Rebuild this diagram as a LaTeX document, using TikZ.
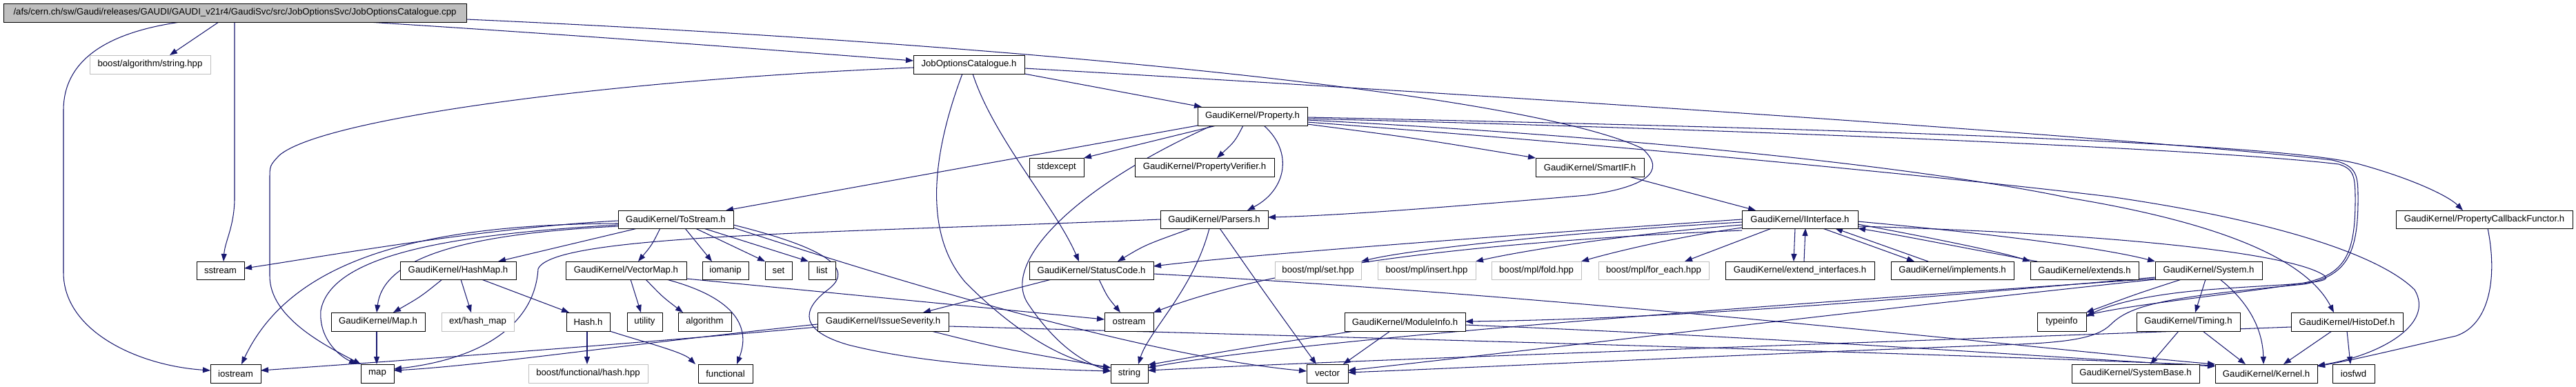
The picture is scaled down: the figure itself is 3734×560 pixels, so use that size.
\documentclass[tikz,border=0pt]{standalone}
\usepackage{fontspec}
\setmainfont{Liberation Sans}
\usetikzlibrary{arrows.meta}
\pgfdeclarelayer{background}
\pgfsetlayers{background,main}
\definecolor{edgec}{HTML}{191970}
\definecolor{rootfill}{HTML}{BFBFBF}
\definecolor{graybd}{HTML}{BFBFBF}
\newcommand{\mkbox}[7]{\node[#1,minimum width={#5pt-#3pt},minimum height={#6pt-#4pt}] (#2) at ({(#3+#5)/2},{(#4+#6)/2}) {#7};}
\begin{document}
\begin{tikzpicture}[x=1pt,y=-1pt,
  nb/.style={draw=black,line width=0.9pt,fill=white,inner sep=0pt,outer sep=0pt,font=\fontsize{13.2}{15}\selectfont},
  gb/.style={nb,draw=graybd},
  rb/.style={nb,fill=rootfill},
  e/.style={draw=edgec,line width=1.05pt,-{Triangle[length=11pt,width=8pt]}}]
\useasboundingbox (0,0) rectangle (3734,560);
% nodes
\mkbox{rb}{R}{5}{5}{676}{32}{/afs/cern.ch/sw/Gaudi/releases/GAUDI/GAUDI\_v21r4/GaudiSvc/src/JobOptionsSvc/JobOptionsCatalogue.cpp}
\mkbox{gb}{balgo}{130}{80}{305}{107}{boost/algorithm/string.hpp}
\mkbox{nb}{JOC}{1324}{80}{1485}{107}{JobOptionsCatalogue.h}
\mkbox{nb}{Prop}{1736}{155}{1895}{182}{GaudiKernel/Property.h}
\mkbox{nb}{stdexcept}{1492}{229}{1571}{256}{stdexcept}
\mkbox{nb}{PVer}{1645}{229}{1847}{256}{GaudiKernel/PropertyVerifier.h}
\mkbox{nb}{SmartIF}{2226}{229}{2383}{256}{GaudiKernel/SmartIF.h}
\mkbox{nb}{ToStream}{896}{305}{1063}{331}{GaudiKernel/ToStream.h}
\mkbox{nb}{Parsers}{1682}{305}{1838}{331}{GaudiKernel/Parsers.h}
\mkbox{nb}{IInterface}{2525}{305}{2693}{331}{GaudiKernel/IInterface.h}
\mkbox{nb}{PCF}{3473}{305}{3729}{331}{GaudiKernel/PropertyCallbackFunctor.h}
\mkbox{nb}{sstream}{285}{379}{354}{405}{sstream}
\mkbox{nb}{HashMap}{580}{379}{748}{405}{GaudiKernel/HashMap.h}
\mkbox{nb}{VectorMap}{820}{379}{995}{405}{GaudiKernel/VectorMap.h}
\mkbox{nb}{iomanip}{1018}{379}{1085}{405}{iomanip}
\mkbox{nb}{set}{1109}{379}{1148}{405}{set}
\mkbox{nb}{list}{1172}{379}{1211}{405}{list}
\mkbox{nb}{StatusCode}{1492}{379}{1672}{405}{GaudiKernel/StatusCode.h}
\mkbox{gb}{mplset}{1848}{379}{1973}{405}{boost/mpl/set.hpp}
\mkbox{gb}{mplinsert}{1997}{379}{2139}{405}{boost/mpl/insert.hpp}
\mkbox{gb}{mplfold}{2162}{379}{2292}{405}{boost/mpl/fold.hpp}
\mkbox{gb}{mplforeach}{2317}{379}{2477}{405}{boost/mpl/for\_each.hpp}
\mkbox{nb}{extint}{2501}{379}{2717}{405}{GaudiKernel/extend\_interfaces.h}
\mkbox{nb}{impl}{2741}{379}{2919}{405}{GaudiKernel/implements.h}
\mkbox{nb}{extends}{2943}{379}{3100}{405}{GaudiKernel/extends.h}
\mkbox{nb}{System}{3124}{379}{3279}{405}{GaudiKernel/System.h}
\mkbox{nb}{Map}{480}{453}{616}{480}{GaudiKernel/Map.h}
\mkbox{gb}{exthash}{640}{453}{745}{480}{ext/hash\_map}
\mkbox{nb}{Hash}{821}{453}{884}{480}{Hash.h}
\mkbox{nb}{utility}{909}{453}{960}{480}{utility}
\mkbox{nb}{algorithm}{983}{453}{1060}{480}{algorithm}
\mkbox{nb}{IssueSev}{1185}{453}{1375}{480}{GaudiKernel/IssueSeverity.h}
\mkbox{nb}{ostream}{1601}{453}{1672}{480}{ostream}
\mkbox{nb}{ModuleInfo}{1949}{453}{2124}{480}{GaudiKernel/ModuleInfo.h}
\mkbox{nb}{typeinfo}{2953}{453}{3024}{480}{typeinfo}
\mkbox{nb}{Timing}{3097}{453}{3247}{480}{GaudiKernel/Timing.h}
\mkbox{nb}{HistoDef}{3321}{453}{3483}{480}{GaudiKernel/HistoDef.h}
\mkbox{nb}{iostream}{305}{528}{378}{555}{iostream}
\mkbox{nb}{map}{523}{528}{571}{555}{map}
\mkbox{gb}{bfhash}{766}{528}{939}{555}{boost/functional/hash.hpp}
\mkbox{nb}{functional}{1012}{528}{1091}{555}{functional}
\mkbox{nb}{string}{1610}{528}{1664}{555}{string}
\mkbox{nb}{vector}{1894}{528}{1954}{555}{vector}
\mkbox{nb}{SysBase}{3003}{528}{3188}{555}{GaudiKernel/SystemBase.h}
\mkbox{nb}{Kernel}{3211}{528}{3359}{555}{GaudiKernel/Kernel.h}
\mkbox{nb}{iosfwd}{3381}{528}{3442}{555}{iosfwd}
\begin{pgfonlayer}{background}
\fill[white] (0,0) rectangle (3734,560);
% root
\draw[e] (R.south -| 317,0) -- (balgo.north -| 246,0);
\draw[e] (R.south -| 261,0) .. controls (150,48) and (92,90) .. (92,160) -- (92,395) .. controls (92,480) and (200,530) .. (iostream.west |- 0,537);
\draw[e] (R.south -| 340,0) -- (340,290) .. controls (339,330) and (326,350) .. (sstream.north -| 324,0);
\draw[e] (R.south -| 534,0) .. controls (900,55) and (1150,75) .. (JOC.west |- 0,88);
\draw[e] (R.east |- 0,28) .. controls (1400,60) and (2200,130) .. (2380,215) .. controls (2420,250) and (2380,272) .. (2300,283) .. controls (2100,300) and (1950,312) .. (Parsers.east |- 0,315);
% JobOptionsCatalogue.h
\draw[e] (JOC.west |- 0,98) .. controls (900,115) and (470,170) .. (405,225) .. controls (391,240) .. (391,260) -- (391,400) .. controls (391,460) and (470,500) .. (map.north west);
\draw[e] (JOC.south -| 1395,0) .. controls (1360,200) and (1330,330) .. (1400,410) .. controls (1480,490) and (1550,525) .. (string.west |- 0,533);
\draw[e] (JOC.south -| 1410,0) .. controls (1440,200) and (1530,300) .. (StatusCode.north -| 1564,0);
\draw[e] (JOC.south east) -- (Prop.north -| 1742,0);
\draw[e] (JOC.east |- 0,99) .. controls (2200,140) and (3100,200) .. (3380,232) .. controls (3418,240) and (3418,255) .. (3418,290) .. controls (3418,370) and (3400,400) .. (3340,412) .. controls (3150,430) and (3090,440) .. (3060,470) .. controls (3040,490) and (3000,497) .. (2900,500) .. controls (2500,515) and (2200,530) .. (vector.east |- 0,540);
% Property.h
\draw[e] (Prop.south west) -- (ToStream.north -| 1052,0);
\draw[e] (Prop.south -| 1763,0) -- (stdexcept.north east);
\draw[e] (Prop.south -| 1757,0) .. controls (1560,270) and (1450,380) .. (1490,440) .. controls (1530,500) and (1570,525) .. (string.west |- 0,538);
\draw[e] (Prop.south -| 1802,0) .. controls (1790,205) .. (PVer.north -| 1764,0);
\draw[e] (Prop.south -| 1832,0) .. controls (1875,220) and (1865,275) .. (Parsers.north -| 1808,0);
\draw[e] (Prop.east |- 0,180) .. controls (2050,200) .. (SmartIF.north west);
\draw[e] (Prop.east |- 0,170) .. controls (2600,185) and (3300,205) .. (3420,238) .. controls (3500,260) and (3550,285) .. (PCF.north -| 3570,0);
\draw[e] (Prop.east |- 0,172) .. controls (2500,187) and (3200,215) .. (3390,238) .. controls (3412,245) and (3414,255) .. (3414,290) .. controls (3414,370) and (3398,398) .. (3340,410) .. controls (3250,425) and (3100,440) .. (typeinfo.east |- 0,457);
\draw[e] (Prop.east |- 0,174) .. controls (2400,200) and (2800,245) .. (3000,287) .. controls (3200,320) and (3340,370) .. (HistoDef.north -| 3383,0);
\draw[e] (Prop.east |- 0,177) .. controls (2400,215) and (2850,260) .. (3058,285) .. controls (3300,320) and (3450,370) .. (3500,420) .. controls (3530,470) and (3450,515) .. (Kernel.east |- 0,530);
% ToStream.h
\draw[e] (ToStream.west |- 0,320) .. controls (700,330) and (450,375) .. (sstream.east |- 0,389);
\draw[e] (ToStream.west |- 0,324) .. controls (600,325) and (420,380) .. (iostream.north -| 350,0);
\draw[e] (ToStream.west |- 0,328) .. controls (650,340) and (555,380) .. (Map.north -| 546,0);
\draw[e] (ToStream.west |- 0,326) .. controls (650,340) and (480,370) .. (465,450) .. controls (462,490) and (490,515) .. (map.north -| 517,0);
\draw[e] (ToStream.south -| 924,0) -- (HashMap.north -| 722,0);
\draw[e] (ToStream.south -| 957,0) .. controls (945,355) .. (VectorMap.north -| 925,0);
\draw[e] (ToStream.south -| 993,0) -- (iomanip.north -| 1032,0);
\draw[e] (ToStream.south -| 1008,0) -- (set.north west);
\draw[e] (ToStream.south -| 1020,0) -- (list.north west);
\draw[e] (ToStream.east |- 0,326) .. controls (1200,360) and (1240,390) .. (1200,420) .. controls (1160,450) and (1160,480) .. (1230,500) .. controls (1350,530) and (1500,535) .. (string.west |- 0,538);
\draw[e] (ToStream.east |- 0,330) .. controls (1400,440) and (1700,520) .. (vector.west |- 0,538);
% HashMap, Map, Hash, VectorMap
\draw[e] (HashMap.south -| 641,0) .. controls (610,430) .. (Map.north -| 570,0);
\draw[e] (HashMap.south -| 668,0) -- (exthash.north -| 683,0);
\draw[e] (HashMap.south -| 698,0) -- (Hash.north -| 825,0);
\draw[e] (Map.south -| 546,0) -- (map.north -| 546,0);
\draw[e] (Hash.south -| 851,0) -- (bfhash.north -| 851,0);
\draw[e] (Hash.east |- 0,480) .. controls (930,495) and (990,510) .. (functional.north -| 1008,0);
\draw[e] (VectorMap.south -| 914,0) -- (utility.north -| 929,0);
\draw[e] (VectorMap.south -| 936,0) .. controls (960,430) .. (algorithm.north -| 990,0);
\draw[e] (VectorMap.south -| 966,0) .. controls (1060,430) and (1090,470) .. (functional.north -| 1068,0);
\draw[e] (VectorMap.east |- 0,404) -- (ostream.west |- 0,463);
% IssueSeverity.h
\draw[e] (IssueSev.west |- 0,474) .. controls (900,500) and (550,525) .. (iostream.east |- 0,537);
\draw[e] (IssueSev.west |- 0,470) .. controls (900,500) and (700,530) .. (map.east |- 0,537);
\draw[e] (IssueSev.south -| 1350,0) .. controls (1450,505) .. (string.west |- 0,533);
\draw[e] (IssueSev.east |- 0,473) .. controls (2000,490) and (2900,515) .. (Kernel.west |- 0,530);
% Parsers.h
\draw[e] (Parsers.south -| 1727,0) .. controls (1660,355) .. (StatusCode.north -| 1620,0);
\draw[e] (Parsers.south -| 1753,0) .. controls (1730,420) and (1665,480) .. (string.north -| 1650,0);
\draw[e] (Parsers.south -| 1768,0) .. controls (1830,420) .. (vector.north -| 1908,0);
\draw[e] (Parsers.west |- 0,318) .. controls (1200,338) and (800,340) .. (780,390) .. controls (775,470) and (700,520) .. (map.east |- 0,535);
% StatusCode.h
\draw[e] (StatusCode.south -| 1593,0) .. controls (1605,430) .. (ostream.north -| 1624,0);
\draw[e] (StatusCode.south -| 1524,0) -- (IssueSev.north -| 1338,0);
\draw[e] (StatusCode.east |- 0,397) .. controls (2300,430) and (3000,510) .. (Kernel.west |- 0,528);
% IInterface.h
\draw[e] (SmartIF.south -| 2361,0) -- (IInterface.north -| 2545,0);
\draw[e] (IInterface.south -| 2602,0) -- (extint.north -| 2600,0);
\draw[e] (extint.north -| 2615,0) -- (IInterface.south -| 2617,0);
\draw[e] (IInterface.south -| 2642,0) -- (impl.north -| 2775,0);
\draw[e] (impl.north -| 2795,0) -- (IInterface.south -| 2660,0);
\draw[e] (IInterface.east |- 0,325) .. controls (2800,345) and (2900,365) .. (extends.north west);
\draw[e] (extends.north -| 2953,0) .. controls (2850,360) and (2750,340) .. (IInterface.south east);
\draw[e] (IInterface.east |- 0,321) .. controls (2900,340) and (3050,360) .. (System.north west);
\draw[e] (IInterface.east |- 0,328) .. controls (3100,340) and (3330,370) .. (3370,400) .. controls (3385,412) and (3300,412) .. (3200,420) .. controls (3100,428) and (3050,445) .. (typeinfo.east |- 0,459);
\draw[e] (IInterface.west |- 0,322) .. controls (2300,335) and (2050,360) .. (mplset.north east);
\draw[e] (IInterface.west |- 0,326) .. controls (2350,340) and (2200,365) .. (mplinsert.north east);
\draw[e] (IInterface.west |- 0,330) .. controls (2420,345) and (2330,368) .. (mplfold.north east);
\draw[e] (IInterface.south -| 2568,0) -- (mplforeach.north -| 2442,0);
\draw[e] (IInterface.west |- 0,318) .. controls (2200,340) and (1800,370) .. (StatusCode.east |- 0,386);
\draw[e] (IInterface.west |- 0,334) .. controls (2150,350) and (1850,385) .. (ostream.north east);
% System.h
\draw[e] (System.south -| 3162,0) .. controls (3100,425) .. (typeinfo.north east);
\draw[e] (System.south -| 3197,0) -- (Timing.north -| 3182,0);
\draw[e] (System.south -| 3218,0) .. controls (3262,440) and (3280,480) .. (Kernel.north -| 3281,0);
\draw[e] (System.west |- 0,402) .. controls (2800,430) and (2450,462) .. (ModuleInfo.east |- 0,466);
\draw[e] (System.west |- 0,404) .. controls (2600,440) and (1900,490) .. (string.east |- 0,533);
\draw[e] (System.west |- 0,405) .. controls (2700,450) and (2200,510) .. (vector.east |- 0,537);
% ModuleInfo.h
\draw[e] (ModuleInfo.south -| 1963,0) .. controls (1800,505) .. (string.east |- 0,529);
\draw[e] (ModuleInfo.south -| 2015,0) -- (vector.north -| 1947,0);
\draw[e] (ModuleInfo.east |- 0,471) .. controls (2600,490) and (3000,520) .. (Kernel.west |- 0,531);
% Timing, HistoDef, PCF
\draw[e] (Timing.south -| 3158,0) -- (SysBase.north -| 3117,0);
\draw[e] (Timing.south -| 3193,0) -- (Kernel.north -| 3255,0);
\draw[e] (HistoDef.south -| 3380,0) -- (Kernel.north -| 3310,0);
\draw[e] (HistoDef.south -| 3402,0) -- (iosfwd.north -| 3407,0);
\draw[e] (HistoDef.west |- 0,474) .. controls (2900,490) and (2000,520) .. (string.east |- 0,537);
\draw[e] (PCF.south -| 3606,0) .. controls (3620,400) and (3610,470) .. (3560,487) .. controls (3480,505) and (3420,520) .. (Kernel.east |- 0,531);
\end{pgfonlayer}
\end{tikzpicture}
\end{document}
